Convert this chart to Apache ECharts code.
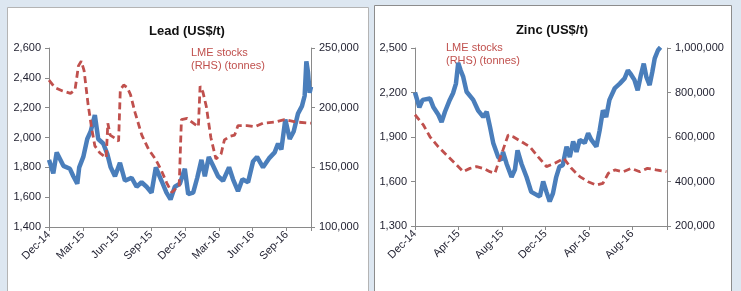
<!DOCTYPE html>
<html>
<head>
<meta charset="utf-8">
<script src="https://cdn.jsdelivr.net/npm/echarts@6/dist/echarts.min.js"></script>
<style>
html, body { margin: 0; padding: 0; background: #dde7f1; }
#chart { width: 741px; height: 291px; }
</style>
</head>
<body>
<div id="chart"></div>
<script>
// x values are months counted from the start of Dec-14
const leadTickLabels = ['Dec-14', 'Mar-15', 'Jun-15', 'Sep-15', 'Dec-15', 'Mar-16', 'Jun-16', 'Sep-16']
const zincTickLabels = ['Dec-14', 'Apr-15', 'Aug-15', 'Dec-15', 'Apr-16', 'Aug-16']

// Lead price (US$/t)
const leadMonths = [0, 0.38, 0.68, 1.27, 1.85, 2.15, 2.5, 2.67, 3.03, 3.38, 3.68, 4.05, 4.35, 4.79, 5.15, 5.45,
  5.83, 6.27, 6.71, 7.3, 7.74, 8.18, 8.62, 9.06, 9.44, 9.94, 10.38, 10.74, 11.12, 11.56, 12.0, 12.3, 12.74,
  13.1, 13.47, 13.77, 14.12, 14.5, 14.94, 15.38, 15.91, 16.26, 16.7, 17.09, 17.59, 18.03, 18.38, 18.91,
  19.44, 19.94, 20.24, 20.53, 20.88, 21.27, 21.62, 22.0, 22.35, 22.59, 22.74, 22.88, 23.03, 23.15]
const leadPrice = [1850, 1760, 1900, 1810, 1790, 1740, 1690, 1800, 1870, 1990, 2040, 2150, 1990, 1960, 1890, 1800,
  1740, 1830, 1710, 1730, 1670, 1700, 1670, 1630, 1800, 1710, 1630, 1585, 1670, 1690, 1790, 1620, 1630,
  1730, 1850, 1740, 1870, 1810, 1740, 1710, 1800, 1720, 1640, 1720, 1700, 1840, 1870, 1800,
  1860, 1900, 1960, 1920, 2120, 1990, 2040, 2160, 2210, 2280, 2510, 2440, 2300, 2340]

// Lead LME stocks (tonnes)
const leadStockMonths = [0, 0.5, 1.2, 1.9, 2.3, 2.6, 2.85, 3.1, 3.45, 3.75, 4.05, 4.5, 5.05, 5.2, 5.4, 5.9, 6.15,
  6.3, 6.6, 6.9, 7.2, 7.6, 8.2, 8.8, 9.4, 9.9, 10.4, 10.85, 11.2, 11.5, 11.7, 12.2, 12.9, 13.2, 13.35, 13.6,
  13.9, 14.3, 14.75, 15.2, 15.5, 16.0, 16.4, 16.7, 17.5, 18.2, 18.9, 20.0, 20.8, 21.8, 23.15]
const leadStocks = [223000, 217000, 214000, 212000, 215000, 235000, 239000, 231000, 203000, 184000, 168000, 162000,
  158000, 187000, 177000, 174000, 172000, 215000, 219000, 217000, 211000, 196000, 177000, 165000, 157000,
  148000, 137000, 129000, 132000, 134000, 190000, 191000, 186000, 184000, 218000, 213000, 201000, 175000,
  157000, 161000, 173000, 176000, 177000, 185000, 185000, 184000, 187000, 188000, 190000, 188000, 187000]

// Zinc price (US$/t)
const zincMonths = [0, 0.4, 0.7, 1.38, 1.7, 2.15, 2.45, 2.76, 3.2, 3.5, 3.77, 3.98, 4.2, 4.44, 4.75, 5.36, 5.8,
  6.28, 6.6, 6.9, 7.2, 7.66, 7.97, 8.1, 8.43, 8.89, 9.2, 9.44, 9.8, 10.27, 10.7, 11.2, 11.5, 11.8, 12.1,
  12.4, 12.7, 13.0, 13.3, 13.6, 13.95, 14.25, 14.56, 14.87, 15.17, 15.63, 15.94, 16.24, 16.7, 17.0, 17.3,
  17.6, 17.9, 18.4, 18.85, 19.3, 19.6, 19.9, 20.2, 20.5, 20.8, 21.06, 21.3, 21.6, 21.85, 22.07, 22.37, 22.6]
const zincPrice = [2200, 2100, 2150, 2160, 2100, 2050, 2000, 2070, 2150, 2195, 2260, 2400, 2350, 2305, 2205, 2150,
  2080, 2035, 2070, 1970, 1860, 1765, 1745, 1800, 1720, 1630, 1680, 1810, 1720, 1630, 1530, 1510, 1500,
  1600, 1530, 1465, 1520, 1630, 1700, 1710, 1835, 1765, 1870, 1800, 1880, 1860, 1925, 1880, 1835, 1945,
  2080, 2035, 2150, 2230, 2260, 2295, 2350, 2320, 2285, 2215, 2320, 2395, 2305, 2250, 2340, 2430, 2485, 2505]

// Zinc LME stocks (tonnes)
const zincStockMonths = [0, 0.77, 1.38, 2.15, 2.9, 3.68, 4.44, 5.06, 5.67, 6.28, 6.9, 7.36, 7.66, 8.1, 8.58, 9.04,
  9.8, 10.57, 11.34, 12.1, 12.87, 13.7, 14.4, 15.17, 15.94, 16.7, 17.3, 17.8, 18.4, 19.16, 19.9, 20.7,
  21.4, 22.2, 23.15]
const zincStocks = [700000, 654000, 601000, 556000, 519000, 482000, 444000, 459000, 467000, 459000, 444000, 437000,
  482000, 542000, 609000, 601000, 579000, 556000, 511000, 467000, 482000, 504000, 459000, 422000, 399000,
  384000, 392000, 437000, 452000, 444000, 459000, 444000, 459000, 452000, 444000]

const pairs = (xs, ys) => xs.map((x, i) => [x, ys[i]])

const BLUE = '#4a7ebb'
const RED = '#c0504d'
const AXIS = '#8a8a8a'
const TEXT = '#1e1e2e'
const FONT = 'Liberation Sans, Arial, sans-serif'

function monthLabel(labels, step) {
  return v => {
    const k = v / step
    return Math.abs(k - Math.round(k)) < 1e-6 ? (labels[Math.round(k)] || '') : ''
  }
}

function xAxis(grid, max, step, labels) {
  return {
    type: 'value', gridIndex: grid, min: 0, max: max, interval: step,
    axisLine: {lineStyle: {color: AXIS}},
    axisTick: {length: 4, lineStyle: {color: AXIS}},
    splitLine: {show: false},
    axisLabel: {rotate: 45, fontSize: 11, margin: 6, color: TEXT, fontFamily: FONT,
      formatter: monthLabel(labels, step)}
  }
}

function yAxis(grid, pos, min, max, step) {
  return {
    type: 'value', gridIndex: grid, position: pos, min: min, max: max, interval: step,
    axisLine: {show: true, lineStyle: {color: AXIS}},
    axisTick: {show: true, length: 4, lineStyle: {color: AXIS}},
    splitLine: {show: false},
    axisLabel: {fontSize: 11, margin: 8, color: TEXT, fontFamily: FONT,
      formatter: v => v.toLocaleString('en-US')}
  }
}

function priceLine(xi, yi, data) {
  return {type: 'line', xAxisIndex: xi, yAxisIndex: yi, data: data, symbol: 'none',
    lineStyle: {color: BLUE, width: 4.5}, z: 2}
}

function stockLine(xi, yi, data) {
  return {type: 'line', xAxisIndex: xi, yAxisIndex: yi, data: data, symbol: 'none',
    lineStyle: {color: RED, width: 2.8, type: [7, 4]}, z: 3}
}

const chart = echarts.init(document.getElementById('chart'))
chart.setOption({
  animation: false,
  backgroundColor: '#dde7f1',
  textStyle: {fontFamily: FONT},
  graphic: [
    {type: 'rect', shape: {x: 7.5, y: 7.5, width: 361, height: 290}, style: {fill: '#fff', stroke: '#b4b4b4'}, z: -10},
    {type: 'rect', shape: {x: 374.5, y: 5.5, width: 357, height: 292}, style: {fill: '#fff', stroke: '#8c8c8c'}, z: -10},
    {type: 'text', x: 187, y: 31, style: {text: 'Lead (US$/t)', font: 'bold 13px ' + FONT, fill: '#111',
      align: 'center', verticalAlign: 'middle'}},
    {type: 'text', x: 552, y: 30, style: {text: 'Zinc (US$/t)', font: 'bold 13px ' + FONT, fill: '#111',
      align: 'center', verticalAlign: 'middle'}},
    {type: 'text', x: 191, y: 47, style: {text: 'LME stocks\n(RHS) (tonnes)', font: '11px ' + FONT, fill: RED,
      lineHeight: 12.5}},
    {type: 'text', x: 446, y: 42, style: {text: 'LME stocks\n(RHS) (tonnes)', font: '11px ' + FONT, fill: RED,
      lineHeight: 12.5}}
  ],
  grid: [
    {left: 49, right: 430, top: 48, bottom: 64},
    {left: 415, right: 74, top: 48, bottom: 65}
  ],
  xAxis: [
    xAxis(0, 23.15, 3, leadTickLabels),
    xAxis(1, 23.2, 4, zincTickLabels)
  ],
  yAxis: [
    yAxis(0, 'left', 1400, 2600, 200),
    yAxis(0, 'right', 100000, 250000, 50000),
    yAxis(1, 'left', 1300, 2500, 300),
    yAxis(1, 'right', 200000, 1000000, 200000)
  ],
  series: [
    priceLine(0, 0, pairs(leadMonths, leadPrice)),
    stockLine(0, 1, pairs(leadStockMonths, leadStocks)),
    priceLine(1, 2, pairs(zincMonths, zincPrice)),
    stockLine(1, 3, pairs(zincStockMonths, zincStocks))
  ]
})
</script>
</body>
</html>
